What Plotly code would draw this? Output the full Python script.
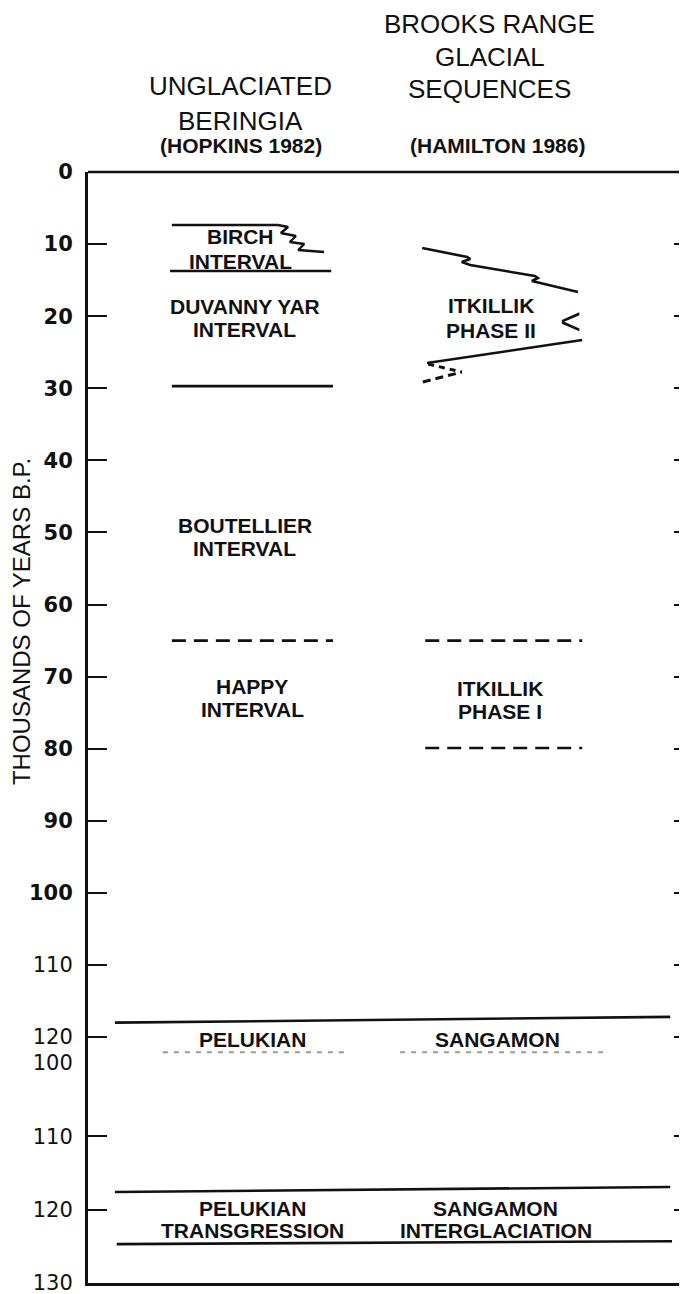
import plotly.graph_objects as go

# ---------------- data (ages in thousands of years B.P.) ----------------
upper_ticks = [0, 10, 20, 30, 40, 50, 60, 70, 80, 90, 100, 110, 120]
upper_ticktext = ["<b>0</b>", "<b>10</b>", "<b>20</b>", "<b>30</b>", "<b>40</b>", "<b>50</b>",
                  "<b>60</b>", "<b>70</b>", "<b>80</b>", "<b>90</b>", "<b>100</b>", "110", "120"]
lower_ticks = [100, 110, 120, 130]
lower_ticktext = ["100", "110", "120", "130"]

# column extents (percent of panel width)
col1_x = [14.0, 40.9]
col2_x = [56.3, 82.5]
full_x = [4.5, 97.2]

# Unglaciated Beringia boundaries
birch_top_age = 7.35
birch_top_x = [14.0, 31.7]
birch_zig_x = [31.7, 33.4, 32.2, 34.7, 33.7, 36.1, 35.1, 39.4]
birch_zig_age = [7.35, 7.63, 8.46, 8.88, 9.71, 9.99, 10.82, 11.10]
birch_base_age = 13.73
birch_base_x = [13.7, 40.6]
duvanny_base_age = 29.7
boutellier_base_age = 65.0

# Brooks Range boundaries
itk2_top_x = [55.8, 63.3, 63.8, 62.4, 63.8, 74.6, 75.1, 74.1, 75.5, 81.8]
itk2_top_age = [10.54, 11.79, 12.07, 12.49, 12.90, 14.43, 14.71, 15.12, 15.40, 16.65]
itk2_base_x = [56.6, 82.5]
itk2_base_age = [26.5, 23.3]
itk2_dash1_x = [56.8, 62.4]
itk2_dash1_age = [26.64, 27.75]
itk2_dash2_x = [55.9, 62.4]
itk2_dash2_age = [29.13, 27.75]
itk1_top_age = 65.0
itk1_base_age = 79.9

# Pelukian / Sangamon (upper copy)
pel_upper_top_age = [118.0, 117.2]
cut_age = 122.1
cut1_x = [12.5, 42.9]
cut2_x = [52.1, 86.3]
# Pelukian / Sangamon (lower copy)
pel_lower_top_age = [117.6, 116.9]
pel_lower_base_x = [4.8, 97.5]
pel_lower_base_age = [124.7, 124.3]

# labels: (text, x, age)
upper_labels = [
    ("BIRCH", 25.5, 9.0), ("INTERVAL", 25.5, 12.35),
    ("DUVANNY YAR", 26.2, 18.7), ("INTERVAL", 26.2, 21.8),
    ("BOUTELLIER", 26.2, 49.0), ("INTERVAL", 26.2, 52.2),
    ("HAPPY", 27.4, 71.3), ("INTERVAL", 27.4, 74.6),
    ("ITKILLIK", 67.3, 18.45), ("PHASE II", 67.3, 22.05),
    ("ITKILLIK", 68.8, 71.6), ("PHASE I", 68.8, 74.8),
    ("PELUKIAN", 27.5, 120.4), ("SANGAMON", 68.3, 120.4),
]
lower_labels = [
    ("PELUKIAN", 27.5, 119.8), ("TRANSGRESSION", 27.5, 122.8),
    ("SANGAMON", 68.1, 119.8), ("INTERGLACIATION", 68.1, 122.8),
]
headers = [
    ("BROOKS RANGE", 67.1, 1.133), ("GLACIAL", 67.1, 1.1035), ("SEQUENCES", 67.1, 1.0745),
    ("UNGLACIATED", 25.4, 1.0775), ("BERINGIA", 25.4, 1.046),
]
refs = [("(HOPKINS 1982)", 25.5, 1.0235), ("(HAMILTON 1986)", 68.3, 1.0235)]

# ---------------- figure ----------------
BLACK = "#111111"
LW = 2.6
fig = go.Figure()


def line(x, y, yaxis="y", dash="solid", width=LW, color=BLACK):
    fig.add_trace(go.Scatter(x=x, y=y, yaxis=yaxis, mode="lines",
                             line=dict(color=color, width=width, dash=dash),
                             hoverinfo="skip", showlegend=False))


line(birch_top_x, [birch_top_age] * 2)
line(birch_zig_x, birch_zig_age, width=2.4)
line(birch_base_x, [birch_base_age] * 2)
line(col1_x, [duvanny_base_age] * 2)
line(col1_x, [boutellier_base_age] * 2, dash="14px,8px")

line(itk2_top_x, itk2_top_age)
line(itk2_base_x, itk2_base_age)
line(itk2_dash1_x, itk2_dash1_age, dash="6px,5px", width=3)
line(itk2_dash2_x, itk2_dash2_age, dash="8px,5px", width=3)
line(col2_x, [itk1_top_age] * 2, dash="14px,8px")
line(col2_x, [itk1_base_age] * 2, dash="14px,8px")

line(full_x, pel_upper_top_age)
line(cut1_x, [cut_age] * 2, dash="5px,6px", width=2, color="#9a9a9a")
line(cut2_x, [cut_age] * 2, dash="5px,6px", width=2, color="#9a9a9a")

line(full_x, pel_lower_top_age, yaxis="y2")
line(pel_lower_base_x, pel_lower_base_age, yaxis="y2")

# invisible traces so overlay (right tick) axes render
fig.add_trace(go.Scatter(x=[None], y=[None], yaxis="y3", showlegend=False, hoverinfo="skip"))
fig.add_trace(go.Scatter(x=[None], y=[None], yaxis="y4", showlegend=False, hoverinfo="skip"))

BODY = dict(family="Liberation Sans", size=21, color=BLACK)
annotations = []
for t, x, a in upper_labels:
    annotations.append(dict(text="<b>%s</b>" % t, x=x, y=a, xref="x", yref="y",
                            showarrow=False, font=BODY, xanchor="center", yanchor="middle"))
for t, x, a in lower_labels:
    annotations.append(dict(text="<b>%s</b>" % t, x=x, y=a, xref="x", yref="y2",
                            showarrow=False, font=BODY, xanchor="center", yanchor="middle"))
annotations.append(dict(text="<", x=80.5, y=20.8, xref="x", yref="y", showarrow=False,
                        font=dict(family="Liberation Sans", size=36, color=BLACK),
                        xanchor="center", yanchor="middle"))
for t, x, yp in headers:
    annotations.append(dict(text=t, x=x, y=yp, xref="x", yref="paper", showarrow=False,
                            font=dict(family="Liberation Sans", size=26, color=BLACK),
                            xanchor="center", yanchor="middle"))
for t, x, yp in refs:
    annotations.append(dict(text="<b>%s</b>" % t, x=x, y=yp, xref="x", yref="paper", showarrow=False,
                            font=dict(family="Liberation Sans", size=21, color=BLACK),
                            xanchor="center", yanchor="middle"))
annotations.append(dict(text="THOUSANDS OF YEARS B.P.", x=-0.110, y=0.595, xref="paper", yref="paper",
                        textangle=-90, showarrow=False,
                        font=dict(family="Liberation Sans", size=24, color=BLACK),
                        xanchor="center", yanchor="middle"))

TICKFONT = dict(family="DejaVu Sans", size=21, color=BLACK)
# the page body adds an 8px offset, so the figure is sized/margined to compensate
fig.update_layout(
    width=679, height=1286,
    margin=dict(l=80, r=0, t=164, b=11, autoexpand=False),
    paper_bgcolor="white", plot_bgcolor="white",
    xaxis=dict(range=[0, 100], domain=[0, 1], anchor="y2", showline=True, linewidth=LW,
               linecolor=BLACK, showticklabels=False, ticks="", showgrid=False, zeroline=False),
    yaxis=dict(range=[123.6, 0], domain=[0.198, 1], anchor="x", tickmode="array",
               tickvals=upper_ticks, ticktext=upper_ticktext, ticks="inside", ticklen=19,
               tickwidth=2.4, tickcolor=BLACK, showline=True, linewidth=3, linecolor=BLACK,
               showgrid=False, zeroline=False, tickfont=TICKFONT, ticklabelstandoff=8,
               automargin=False, ticklabeloverflow="allow"),
    yaxis2=dict(range=[130, 100], domain=[0, 0.198], anchor="x", tickmode="array",
                tickvals=lower_ticks, ticktext=lower_ticktext, ticks="inside", ticklen=19,
                tickwidth=2.4, tickcolor=BLACK, showline=True, linewidth=3, linecolor=BLACK,
                showgrid=False, zeroline=False, tickfont=TICKFONT, ticklabelstandoff=8,
                automargin=False, ticklabeloverflow="allow"),
    yaxis3=dict(range=[123.6, 0], overlaying="y", side="right", anchor="x", tickmode="array",
                tickvals=upper_ticks[1:], ticks="inside", ticklen=13, tickwidth=2.4,
                tickcolor=BLACK, showticklabels=False, showline=False, showgrid=False,
                zeroline=False),
    yaxis4=dict(range=[130, 100], overlaying="y2", side="right", anchor="x", tickmode="array",
                tickvals=lower_ticks[:-1], ticks="inside", ticklen=13, tickwidth=2.4,
                tickcolor=BLACK, showticklabels=False, showline=False, showgrid=False,
                zeroline=False),
    shapes=[dict(type="line", xref="paper", yref="paper", x0=0, x1=1, y0=1, y1=1,
                 line=dict(color=BLACK, width=LW))],
    annotations=annotations,
)

fig.write_html("out.html")
